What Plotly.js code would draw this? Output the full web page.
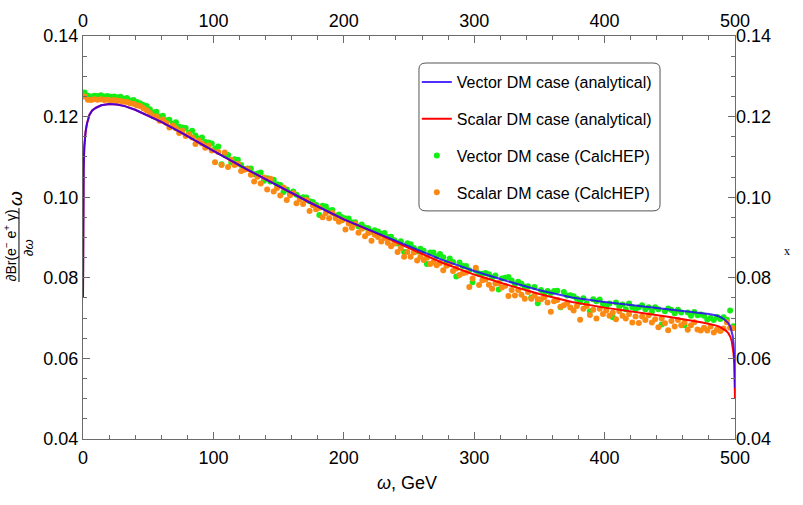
<!DOCTYPE html>
<html>
<head>
<meta charset="utf-8">
<script src="https://cdn.plot.ly/plotly-3.0.1.min.js"></script>
<style>
  html, body { margin: 0; padding: 0; background: #fff; }
  #chart { width: 803px; height: 505px; }
</style>
</head>
<body>
<div id="chart"></div>
<script>
// analytical curves (omega in GeV)
const curveOmega = [0, 0.05, 0.2, 0.5, 1, 1.5, 2, 3, 4, 5, 7, 10, 14, 20, 26, 32, 40, 50, 60, 75, 90, 100,
    125, 150, 175, 200, 225, 250, 275, 300, 325, 350, 375, 400, 425, 450, 475, 480, 485, 488, 491, 493,
    495, 496.5, 497.5, 498.3, 498.9, 499.4, 499.7, 499.9, 500];
const vectorAnalytic = [0.0752, 0.0900, 0.1000, 0.1070, 0.1125, 0.1149, 0.1163, 0.1182, 0.1195, 0.1205, 0.1215,
    0.1222, 0.1228, 0.1231, 0.1230, 0.1226, 0.1217, 0.1203, 0.1187, 0.1161, 0.1133, 0.1115,
    0.1070, 0.1027, 0.0985, 0.0945, 0.0911, 0.0877, 0.0845, 0.0817, 0.0792, 0.0769, 0.0751, 0.0740,
    0.0731, 0.0722, 0.0712, 0.0710, 0.0707, 0.0704, 0.0699, 0.0694, 0.0687, 0.0678, 0.0668, 0.0655,
    0.0638, 0.0615, 0.0590, 0.0560, 0.0527];
const scalarAnalytic = [0.0752, 0.0900, 0.1000, 0.1070, 0.1125, 0.1149, 0.1163, 0.1182, 0.1195, 0.1205, 0.1215,
    0.1222, 0.1228, 0.1231, 0.1230, 0.1226, 0.1217, 0.1203, 0.1187, 0.1161, 0.1133, 0.1115,
    0.1070, 0.1027, 0.0985, 0.0945, 0.0911, 0.0874, 0.0838, 0.0808, 0.0783, 0.0760, 0.0740, 0.0726,
    0.0715, 0.0703, 0.0689, 0.0686, 0.0682, 0.0679, 0.0674, 0.0669, 0.0662, 0.0653, 0.0643, 0.0630,
    0.0612, 0.0588, 0.0560, 0.0530, 0.0500];

// CalcHEP histogram, 2.5 GeV bins
const binWidth = 2.5;
const vectorCalcHEP = [
    0.1260, 0.1252, 0.1250, 0.1252, 0.1251, 0.1253, 0.1250, 0.1251, 0.1249, 0.1250,
    0.1248, 0.1249, 0.1244, 0.1246, 0.1240, 0.1241, 0.1236, 0.1233, 0.1229, 0.1226,
    0.1218, 0.1210, 0.1212, 0.1200, 0.1202, 0.1191, 0.1192, 0.1182, 0.1186, 0.1175,
    0.1173, 0.1172, 0.1160, 0.1165, 0.1153, 0.1145, 0.1148, 0.1137, 0.1136, 0.1133,
    0.1121, 0.1126, 0.1082, 0.1105, 0.1105, 0.1086, 0.1094, 0.1093, 0.1080, 0.1070,
    0.1071, 0.1071, 0.1057, 0.1059, 0.1061, 0.1041, 0.1047, 0.1039, 0.1043, 0.1032,
    0.1030, 0.1013, 0.1019, 0.1010, 0.1014, 0.1006, 0.0998, 0.1000, 0.0999, 0.0990,
    0.0988, 0.0981, 0.0956, 0.0979, 0.0977, 0.0967, 0.0968, 0.0954, 0.0957, 0.0950,
    0.0947, 0.0947, 0.0937, 0.0938, 0.0927, 0.0932, 0.0925, 0.0923, 0.0914, 0.0918,
    0.0915, 0.0909, 0.0911, 0.0901, 0.0902, 0.0893, 0.0885, 0.0891, 0.0864, 0.0886,
    0.0883, 0.0874, 0.0865, 0.0872, 0.0867, 0.0834, 0.0863, 0.0863, 0.0853, 0.0859,
    0.0851, 0.0838, 0.0848, 0.0839, 0.0803, 0.0838, 0.0829, 0.0829, 0.0819, 0.0789,
    0.0818, 0.0810, 0.0810, 0.0812, 0.0809, 0.0801, 0.0806, 0.0771, 0.0798, 0.0800,
    0.0802, 0.0793, 0.0784, 0.0790, 0.0785, 0.0778, 0.0779, 0.0751, 0.0777, 0.0737,
    0.0770, 0.0761, 0.0767, 0.0762, 0.0767, 0.0768, 0.0727, 0.0765, 0.0756, 0.0757,
    0.0754, 0.0748, 0.0740, 0.0749, 0.0736, 0.0717, 0.0747, 0.0742, 0.0746, 0.0735,
    0.0730, 0.0736, 0.0702, 0.0739, 0.0728, 0.0734, 0.0722, 0.0736, 0.0727, 0.0722,
    0.0727, 0.0732, 0.0722, 0.0727, 0.0716, 0.0727, 0.0722, 0.0684, 0.0717, 0.0724,
    0.0720, 0.0712, 0.0721, 0.0714, 0.0682, 0.0714, 0.0706, 0.0715, 0.0707, 0.0709,
    0.0706, 0.0696, 0.0700, 0.0695, 0.0703, 0.0698, 0.0702, 0.0696, 0.0719, 0.0680
];
const scalarCalcHEP = [
    0.1250, 0.1242, 0.1241, 0.1243, 0.1242, 0.1243, 0.1241, 0.1242, 0.1240, 0.1241,
    0.1240, 0.1239, 0.1237, 0.1236, 0.1233, 0.1232, 0.1228, 0.1226, 0.1221, 0.1216,
    0.1209, 0.1201, 0.1200, 0.1190, 0.1193, 0.1185, 0.1173, 0.1178, 0.1171, 0.1159,
    0.1165, 0.1152, 0.1156, 0.1148, 0.1132, 0.1141, 0.1133, 0.1123, 0.1128, 0.1116,
    0.1087, 0.1112, 0.1080, 0.1111, 0.1075, 0.1093, 0.1080, 0.1083, 0.1065, 0.1068,
    0.1070, 0.1056, 0.1039, 0.1051, 0.1034, 0.1049, 0.1019, 0.1046, 0.1014, 0.1023,
    0.1004, 0.1024, 0.0993, 0.1005, 0.1010, 0.0985, 0.0995, 0.0983, 0.0993, 0.0966,
    0.0980, 0.0970, 0.0974, 0.0950, 0.0961, 0.0948, 0.0961, 0.0948, 0.0939, 0.0943,
    0.0920, 0.0935, 0.0924, 0.0934, 0.0912, 0.0922, 0.0903, 0.0911, 0.0892, 0.0907,
    0.0901, 0.0890, 0.0899, 0.0887, 0.0878, 0.0885, 0.0864, 0.0874, 0.0852, 0.0864,
    0.0852, 0.0863, 0.0843, 0.0852, 0.0844, 0.0850, 0.0834, 0.0839, 0.0831, 0.0837,
    0.0819, 0.0830, 0.0835, 0.0817, 0.0823, 0.0807, 0.0811, 0.0813, 0.0777, 0.0798,
    0.0825, 0.0782, 0.0794, 0.0796, 0.0783, 0.0773, 0.0786, 0.0787, 0.0776, 0.0780,
    0.0755, 0.0770, 0.0756, 0.0770, 0.0758, 0.0748, 0.0765, 0.0748, 0.0756, 0.0747,
    0.0747, 0.0752, 0.0739, 0.0716, 0.0742, 0.0745, 0.0728, 0.0732, 0.0737, 0.0726,
    0.0719, 0.0730, 0.0696, 0.0723, 0.0730, 0.0708, 0.0721, 0.0699, 0.0723, 0.0710,
    0.0719, 0.0706, 0.0713, 0.0697, 0.0717, 0.0706, 0.0699, 0.0710, 0.0689, 0.0704,
    0.0688, 0.0704, 0.0695, 0.0707, 0.0689, 0.0697, 0.0677, 0.0699, 0.0687, 0.0670,
    0.0693, 0.0679, 0.0695, 0.0682, 0.0689, 0.0671, 0.0682, 0.0690, 0.0672, 0.0669,
    0.0676, 0.0669, 0.0679, 0.0664, 0.0672, 0.0668, 0.0674, 0.0690, 0.0676, 0.0675
];
const binCentres = vectorCalcHEP.map((_, i) => binWidth / 2 + i * binWidth);

const xTicks = [0, 100, 200, 300, 400, 500];
const yTicks = [0.04, 0.06, 0.08, 0.10, 0.12, 0.14];
const yTickText = ['0.04', '0.06', '0.08', '0.10', '0.12', '0.14'];

const FONT = 'Liberation Sans, Arial, sans-serif';
const frameColor = '#6b6b6b';

const traces = [
    {
        type: 'scatter', mode: 'markers', x: binCentres, y: vectorCalcHEP,
        name: 'Vector DM case (CalcHEP)', legendrank: 3, legendgroup: 'c',
        marker: { color: '#14ee14', size: 6 }
    },
    {
        type: 'scatter', mode: 'markers', x: binCentres, y: scalarCalcHEP,
        name: 'Scalar DM case (CalcHEP)', legendrank: 4, legendgroup: 'd',
        marker: { color: '#fb8a14', size: 6 }
    },
    {
        type: 'scatter', mode: 'lines', x: curveOmega, y: scalarAnalytic,
        name: 'Scalar DM case (analytical)', legendrank: 2, legendgroup: 'b',
        line: { color: '#ff0000', width: 2 }
    },
    {
        type: 'scatter', mode: 'lines', x: curveOmega, y: vectorAnalytic,
        name: 'Vector DM case (analytical)', legendrank: 1, legendgroup: 'a',
        line: { color: 'rgba(40,0,255,0.82)', width: 2 }
    },
    // carries the mirrored labels on top / right
    {
        type: 'scatter', mode: 'markers', x: [0], y: [0.04], xaxis: 'x2', yaxis: 'y2',
        showlegend: false, hoverinfo: 'skip', marker: { opacity: 0 }
    }
];

const axisBase = {
    showgrid: false, zeroline: false,
    showline: true, linecolor: frameColor, linewidth: 1,
    ticks: 'inside', tickcolor: frameColor, ticklen: 7, tickwidth: 1,
    tickfont: { family: FONT, size: 18, color: '#000' }
};

const layout = {
    width: 803, height: 505,
    margin: { l: 83, r: 68, t: 36, b: 66 },
    paper_bgcolor: '#fff', plot_bgcolor: '#fff',
    showlegend: true,
    xaxis: Object.assign({}, axisBase, {
        range: [0, 500], tickvals: xTicks, mirror: 'ticks',
        minor: { ticks: 'inside', dtick: 20, ticklen: 4, tickcolor: frameColor, showgrid: false },
        ticklabelstandoff: 2
    }),
    yaxis: Object.assign({}, axisBase, {
        range: [0.04, 0.14], tickvals: yTicks, ticktext: yTickText, mirror: 'ticks',
        minor: { ticks: 'inside', dtick: 0.005, ticklen: 4, tickcolor: frameColor, showgrid: false },
        ticklabelstandoff: 0
    }),
    xaxis2: Object.assign({}, axisBase, {
        overlaying: 'x', side: 'top', anchor: 'y', range: [0, 500], tickvals: xTicks,
        showline: false, ticks: '', ticklabelstandoff: 4
    }),
    yaxis2: Object.assign({}, axisBase, {
        overlaying: 'y', side: 'right', anchor: 'x', range: [0.04, 0.14],
        tickvals: yTicks, ticktext: yTickText, showline: false, ticks: '', ticklabelstandoff: 0
    }),
    legend: {
        x: 0.512, y: 0.928, xanchor: 'left', yanchor: 'top',
        bgcolor: 'rgba(0,0,0,0)', borderwidth: 0,
        traceorder: 'grouped', tracegroupgap: 13, itemwidth: 30,
        font: { family: FONT, size: 16, color: '#000' }
    },
    shapes: [
        // rounded legend frame
        {
            type: 'path', xref: 'paper', yref: 'paper',
            path: 'M 0.5261,0.9330 L 0.8742,0.9330 Q 0.8850,0.9330 0.8850,0.9181 ' +
                  'L 0.8850,0.5809 Q 0.8850,0.5660 0.8742,0.5660 L 0.5261,0.5660 ' +
                  'Q 0.5153,0.5660 0.5153,0.5809 L 0.5153,0.9181 Q 0.5153,0.9330 0.5261,0.9330 Z',
            line: { color: '#555', width: 1 }, fillcolor: 'rgba(255,255,255,0.95)', layer: 'below'
        },
        // fraction bar of the y label
        {
            type: 'line', xref: 'paper', yref: 'paper',
            x0: -0.0982, x1: -0.0982, y0: 0.3896, y1: 0.5732,
            line: { color: '#000', width: 1 }
        }
    ],
    annotations: [
        {
            xref: 'paper', yref: 'paper', x: -0.1112, y: 0.4814, xanchor: 'center', yanchor: 'middle',
            showarrow: false, textangle: -90,
            text: '∂Br(e<sup>−</sup> e<sup>+</sup> γ)', font: { family: FONT, size: 14, color: '#000' }
        },
        {
            xref: 'paper', yref: 'paper', x: -0.0828, y: 0.474, xanchor: 'center', yanchor: 'middle',
            showarrow: false, textangle: -90,
            text: '∂<i>ω</i>', font: { family: FONT, size: 13, color: '#000' }
        },
        {
            xref: 'paper', yref: 'paper', x: -0.1043, y: 0.598, xanchor: 'center', yanchor: 'middle',
            showarrow: false, textangle: -90,
            text: '<i>ω</i>', font: { family: FONT, size: 19, color: '#000' }
        },
        {
            xref: 'paper', yref: 'paper', x: 0.497, y: -0.109, xanchor: 'center', yanchor: 'middle',
            showarrow: false,
            text: '<i>ω</i>, GeV', font: { family: FONT, size: 18, color: '#000' }
        },
        {
            xref: 'paper', yref: 'paper', x: 1.08, y: 0.4665, xanchor: 'center', yanchor: 'middle',
            showarrow: false,
            text: 'x', font: { family: 'Liberation Serif, serif', size: 12, color: '#000' }
        }
    ]
};

Plotly.newPlot('chart', traces, layout, { displayModeBar: false, staticPlot: true });
</script>
</body>
</html>
